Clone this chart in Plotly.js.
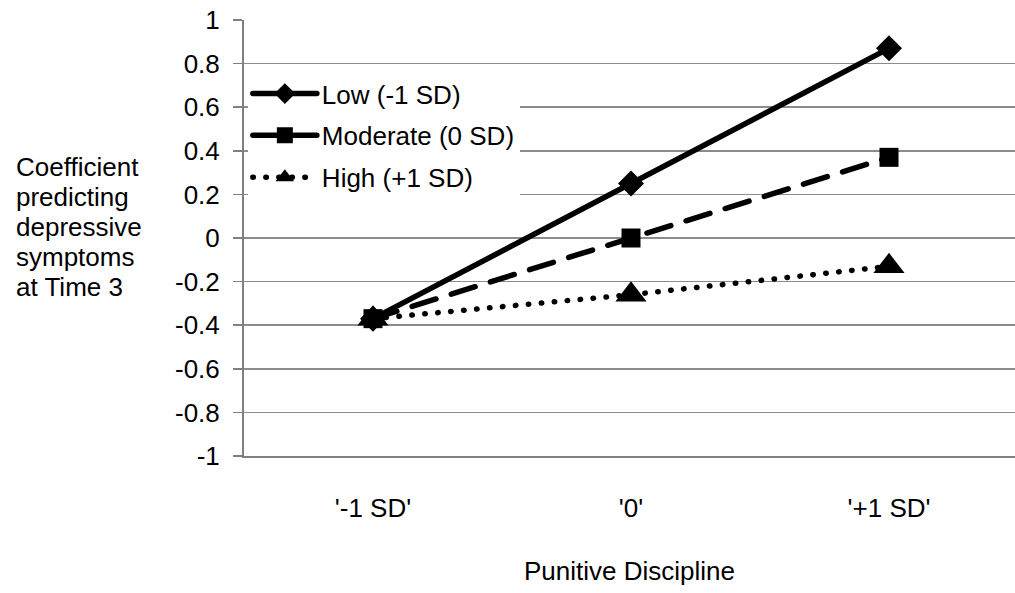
<!DOCTYPE html>
<html>
<head>
<meta charset="utf-8">
<script src="https://cdn.plot.ly/plotly-3.0.1.min.js"></script>
<style>
  html, body { margin: 0; padding: 0; background: #fff; }
  #chart { width: 1015px; height: 593px; }
  .scatterlayer .js-line, .legend .js-line { stroke-linecap: round; }
</style>
</head>
<body>
<div id="chart"></div>
<script>
// ---- data ----
const categories = ["'-1 SD'", "'0'", "'+1 SD'"];
const seriesNames = ["Low (-1 SD)", "Moderate (0 SD)", "High (+1 SD)"];
const lowValues = [-0.37, 0.25, 0.87];
const moderateValues = [-0.37, 0.00, 0.37];
const highValues = [-0.37, -0.26, -0.13];
const yTickValues = [-1, -0.8, -0.6, -0.4, -0.2, 0, 0.2, 0.4, 0.6, 0.8, 1];
const yTickLabels = ["-1", "-0.8", "-0.6", "-0.4", "-0.2", "0", "0.2", "0.4", "0.6", "0.8", "1"];
const yTitleLines = ["Coefficient", "predicting", "depressive", "symptoms", "at Time 3"];
const xTitle = "Punitive Discipline";

const FONT = '"Liberation Sans", Arial, Helvetica, sans-serif';
const xIdx = categories.map((c, i) => i);

const traces = [
  {
    x: xIdx, y: lowValues, name: seriesNames[0], type: 'scatter', mode: 'lines+markers',
    line: { color: '#000', width: 5.5, dash: 'solid' },
    marker: { symbol: 'diamond', size: 20, color: '#000' },
    legendgroup: 'a'
  },
  {
    x: xIdx, y: moderateValues, name: seriesNames[1], type: 'scatter', mode: 'lines+markers',
    line: { color: '#000', width: 5.5, dash: '25px,16px' },
    marker: { symbol: 'square', size: 19, color: '#000' },
    legendgroup: 'b'
  },
  {
    x: xIdx, y: highValues, name: seriesNames[2], type: 'scatter', mode: 'lines+markers',
    line: { color: '#000', width: 5.5, dash: '0.5px,12.5px' },
    marker: { symbol: 'triangle-up', size: 27, color: '#000' },
    legendgroup: 'c'
  }
];

const plotTop = 20, plotBottom = 456, plotLeft = 244, plotW = 771;
const plotH = plotBottom - plotTop;
const lineCenters = [167, 197, 227, 257, 287];
const annotations = yTitleLines.map((t, i) => ({
  text: t, xref: 'paper', yref: 'paper',
  x: (14 - plotLeft) / plotW, y: (plotBottom - lineCenters[i]) / plotH,
  xanchor: 'left', yanchor: 'middle', showarrow: false,
  font: { family: FONT, size: 26, color: '#000' }
}));

const layout = {
  width: 1015, height: 593,
  margin: { l: plotLeft, r: 0, t: plotTop, b: 593 - plotBottom, pad: 0 },
  paper_bgcolor: '#fff', plot_bgcolor: '#fff',
  font: { family: FONT, size: 26, color: '#000' },
  showlegend: true,
  legend: {
    x: 0.005, y: 0.885, xanchor: 'left', yanchor: 'top',
    bgcolor: 'rgba(255,255,255,1)', borderwidth: 0,
    font: { family: FONT, size: 26, color: '#000' },
    traceorder: 'grouped', tracegroupgap: 5, itemwidth: 64
  },
  xaxis: {
    type: 'linear', range: [-0.5, -0.5 + plotW / 258],
    tickvals: xIdx, ticktext: categories,
    showgrid: false, zeroline: false,
    showline: true, linecolor: '#808080', linewidth: 2,
    ticks: '', ticklabelstandoff: 28,
    tickfont: { family: FONT, size: 26, color: '#000' },
    title: { text: xTitle, standoff: 40, font: { family: FONT, size: 26, color: '#000' } },
    fixedrange: true
  },
  yaxis: {
    range: [-1, 1], tickvals: yTickValues, ticktext: yTickLabels,
    showgrid: true, gridcolor: '#8c8c8c', gridwidth: 1.5,
    zeroline: false, showline: true, linecolor: '#808080', linewidth: 2,
    ticks: 'outside', ticklen: 9, tickcolor: '#808080', tickwidth: 1.5,
    ticklabelstandoff: 8,
    tickfont: { family: FONT, size: 26, color: '#000' },
    fixedrange: true
  },
  annotations: annotations
};

Plotly.newPlot('chart', traces, layout, { displayModeBar: false, staticPlot: true });
</script>
</body>
</html>
